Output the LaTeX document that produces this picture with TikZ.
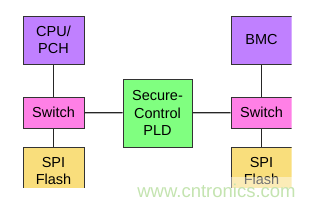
\documentclass[tikz,border=0pt]{standalone}
\usepackage{fontspec}
\setmainfont{Liberation Sans}
\definecolor{hostpurple}{HTML}{C080FF}
\definecolor{switchpink}{HTML}{FF80E6}
\definecolor{flashyellow}{HTML}{F9DE7C}
\definecolor{pldgreen}{HTML}{80FF80}
\definecolor{markgreen}{HTML}{C4E4B0}
\begin{document}
\begin{tikzpicture}[x=1pt, y=-1pt,
    box/.style={draw=black!80, line width=1pt, minimum width=61pt,
        align=center, inner sep=0pt,
        font=\fontsize{14.5}{17.5}\selectfont},
    link/.style={draw=black!85, line width=1.2pt}]
    \useasboundingbox (0,0) rectangle (319,207);

    \begin{scope}
        \clip (0,0) rectangle (291.5,187);

        % lado izquierdo
        \node[box, fill=hostpurple, minimum height=48pt] (cpu) at (53.5,40) {CPU/\\PCH};
        \node[box, fill=switchpink, minimum height=31pt] (swL) at (53.5,112.5) {Switch};
        \node[box, fill=flashyellow, minimum height=48pt] (spiL) at (53.5,171) {SPI\\Flash};

        % centro
        \node[box, fill=pldgreen, minimum width=69pt, minimum height=68pt] (pld) at (157.5,113) {Secure-\\Control\\PLD};

        % lado derecho
        \node[box, fill=hostpurple, minimum height=48pt] (bmc) at (261.5,40) {BMC};
        \node[box, fill=switchpink, minimum height=31pt] (swR) at (261.5,112.5) {Switch};
        \node[box, fill=flashyellow, minimum height=48pt] (spiR) at (261.5,171) {SPI\\Flash};

        % conexiones
        \draw[link] (cpu) -- (swL);
        \draw[link] (swL) -- (spiL);
        \draw[link] (swL) -- (pld);
        \draw[link] (pld) -- (swR);
        \draw[link] (bmc) -- (swR);
        \draw[link] (swR) -- (spiR);
    \end{scope}

    % marca de agua (fondo semitransparente)
    \fill[white, fill opacity=0.45] (119,177) rectangle (319,207);
    \node[text=markgreen, font=\fontsize{18.5}{20}\selectfont, inner sep=0pt] (mark) at (216.5,191) {www.cntronics.com};
\end{tikzpicture}
\end{document}
